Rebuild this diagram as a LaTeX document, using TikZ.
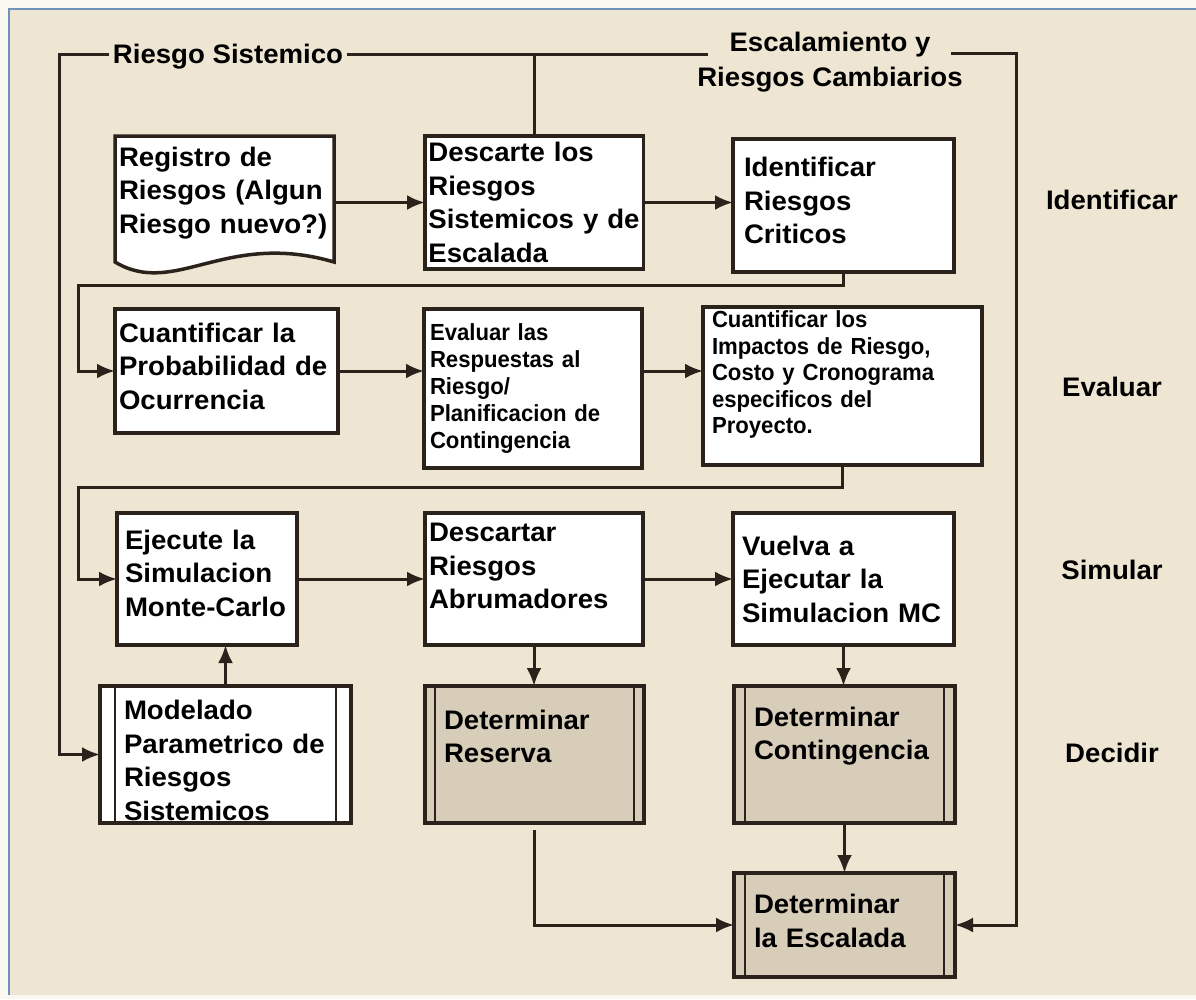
\documentclass[tikz,border=0pt]{standalone}
\usepackage{fontspec}
\setmainfont{Liberation Sans}[FakeStretch=1.03]
\newfontfamily\narrowsans{Liberation Sans Bold}[FakeStretch=0.95]
\usetikzlibrary{arrows.meta}
\definecolor{PageWhite}{HTML}{FAF8F1}
\definecolor{PanelBeige}{HTML}{EFE5D3}
\definecolor{FrameBlue}{HTML}{6F93B8}
\definecolor{FlowLine}{HTML}{2B231B}
\definecolor{DecideFill}{HTML}{D8CDB9}

\begin{document}
\begin{tikzpicture}[x=1pt,y=-1pt,
    flow/.style={FlowLine,line width=3pt},
    arr/.style={flow,-{Latex[length=18pt,width=15pt]}},
    stepbox/.style={draw=FlowLine,line width=3.5pt,fill=white,anchor=north west,align=left,
      inner ysep=2pt,outer sep=0pt,font=\bfseries\fontsize{26.8}{33.5}\selectfont},
    smalltext/.style={font=\narrowsans\fontsize{23.3}{#1}\selectfont},
    bars/.style={path picture={
      \draw[FlowLine,line width=2.5pt]
        ([xshift=#1]path picture bounding box.north west) -- ([xshift=#1]path picture bounding box.south west)
        ([xshift=-#1]path picture bounding box.north east) -- ([xshift=-#1]path picture bounding box.south east);}},
    decide/.style={stepbox,fill=DecideFill,bars=#1},
    phase/.style={font=\bfseries\fontsize{26.8}{35}\selectfont}]
  \useasboundingbox (0,0) rectangle (1196,999);
  \fill[PageWhite] (0,0) rectangle (1196,999);
  \fill[PanelBeige] (9,9) rectangle (1196,995);
  \draw[FrameBlue,line width=1.5pt] (9,995) -- (9,9) -- (1196,9);

  \coordinate (tl) at (59,54);
  \coordinate (tr) at (1016,53);
  \node[phase] (sist) at (228,57) {Riesgo Sistemico};
  \node[phase,align=center] (esc) at (830,62) {Escalamiento y\\Riesgos Cambiarios};

  \draw[FlowLine,line width=3.5pt,fill=white]
    (115,262) -- (115,136) -- (334,136) -- (334,262) .. controls (225,230) and (175,298) .. (115,262) -- cycle;
  \node[stepbox,draw=none,fill=none,minimum width=219pt,minimum height=114pt,text width=211pt] (reg) at (115,136)
    {Registro de\\Riesgos (Algun\\Riesgo nuevo?)};
  \node[stepbox,minimum width=218pt,minimum height=133pt,text width=212pt] (desc) at (425,136)
    {Descarte los\\Riesgos\\Sistemicos y de\\Escalada};
  \node[stepbox,minimum width=221pt,minimum height=133pt,text width=199pt] (ident) at (733,139)
    {Identificar\\Riesgos\\Criticos\rule[-10pt]{0pt}{0pt}};

  \node[stepbox,minimum width=223pt,minimum height=124pt,text width=215pt] (cuant) at (115,309)
    {Cuantificar la\\Probabilidad de\\Ocurrencia\rule[-10pt]{0pt}{0pt}};
  \node[stepbox,smalltext=27,minimum width=218pt,minimum height=159pt,text width=206pt] (eval) at (424,309)
    {Evaluar las\\Respuestas al\\Riesgo/\\Planificacion de\\Contingencia};
  \node[stepbox,smalltext=26.5,minimum width=279pt,minimum height=158pt,text width=261pt] (imp) at (703,307)
    {Cuantificar los\\Impactos de Riesgo,\\Costo y Cronograma\\especificos del\\Proyecto.\rule[-27pt]{0pt}{0pt}};

  \node[stepbox,minimum width=180pt,minimum height=132pt,text width=164pt] (ejec) at (117,513)
    {Ejecute la\\Simulacion\\Monte-Carlo\rule[-12pt]{0pt}{0pt}};
  \node[stepbox,minimum width=218pt,minimum height=132pt,text width=210pt] (descr) at (425,513)
    {Descartar\\Riesgos\\Abrumadores\rule[-26pt]{0pt}{0pt}};
  \node[stepbox,minimum width=221pt,minimum height=132pt,text width=203pt] (vuel) at (733,513)
    {Vuelva a\\Ejecutar la\\Simulacion MC};

  \node[stepbox,bars=15pt,minimum width=251pt,minimum height=137pt,text width=203pt] (model) at (100,686)
    {\rule{0pt}{31pt}Modelado\\Parametrico de\\Riesgos\\Sistemicos};
  \node[decide=10pt,minimum width=219pt,minimum height=137pt,text width=181pt] (resv) at (425,686)
    {Determinar\\Reserva\rule[-36pt]{0pt}{0pt}};
  \node[decide=11pt,minimum width=221pt,minimum height=137pt,text width=181pt] (cont) at (734,686)
    {Determinar\\Contingencia\rule[-42pt]{0pt}{0pt}};
  \node[decide=11pt,minimum width=221pt,minimum height=104pt,text width=181pt] (escal) at (734,873)
    {Determinar\\la Escalada\rule[-8pt]{0pt}{0pt}};

  \node[phase] (lid) at (1112,200) {Identificar};
  \node[phase] (lev) at (1112,387) {Evaluar};
  \node[phase] (lsi) at (1112,570) {Simular};
  \node[phase] (lde) at (1112,753) {Decidir};

  \draw[arr] (sist.west |- tl) -- (tl) |- (model.west);
  \draw[flow] (sist.east |- tl) -- ([xshift=14pt]esc.west |- tl);
  \draw[flow] (desc.north) -- (desc.north |- tl);
  \draw[arr] ([xshift=-15pt]esc.east |- tr) -- (tr) |- (escal.east);

  \draw[arr] (reg.east |- desc.west) -- (desc.west);
  \draw[arr] (desc.east) -- (desc.east -| ident.west);
  \draw[arr] (ident.south) -- ++(0,13) -| ([xshift=-37pt]cuant.west) -- (cuant.west);
  \draw[arr] (cuant.east) -- (cuant.east -| eval.west);
  \draw[arr] (cuant.east -| eval.east) -- (cuant.east -| imp.west);
  \draw[arr] (imp.south) -- ++(0,22) -| ([xshift=-39pt]ejec.west) -- (ejec.west);
  \draw[arr] (ejec.east) -- (ejec.east -| descr.west);
  \draw[arr] (descr.east) -- (descr.east -| vuel.west);
  \draw[arr] (model.north) -- (model.north |- ejec.south);
  \draw[arr] (descr.south) -- (descr.south |- resv.north);
  \draw[arr] (vuel.south) -- (vuel.south |- cont.north);
  \draw[arr] (cont.south) -- (cont.south |- escal.north);
  \draw[arr] ([yshift=-7pt]resv.south) |- (escal.west);
\end{tikzpicture}
\end{document}
